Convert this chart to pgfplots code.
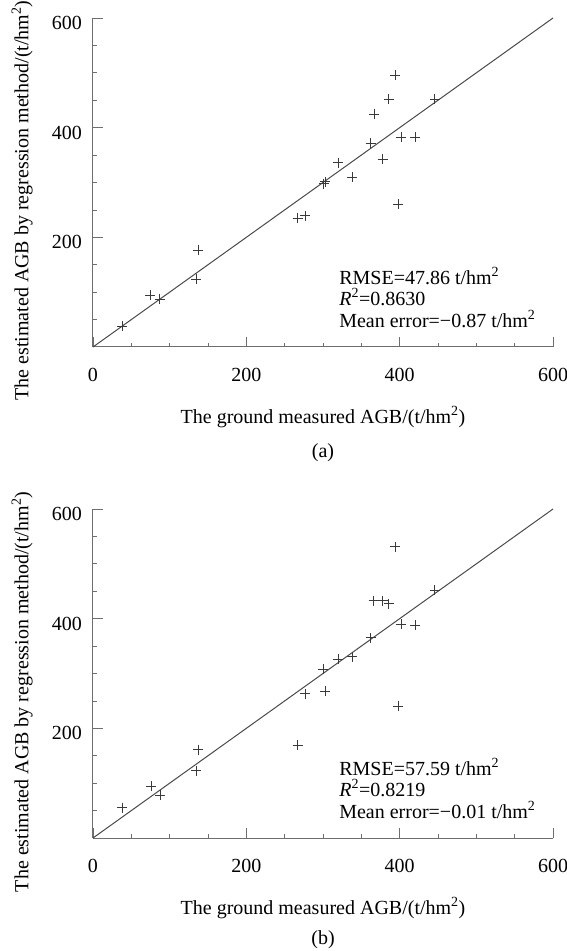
\documentclass[border=0pt]{standalone}
\usepackage{fontspec}
\setmainfont{Liberation Serif}
\usepackage{pgfplots}
\pgfplotsset{compat=1.18}
\definecolor{axisgray}{HTML}{6E6E6E}
\definecolor{linegray}{HTML}{4A4A4A}
\definecolor{markgray}{HTML}{3A3A3A}
\pgfplotstableread{
x y
38 38
75 94
87 87
137 176
135 124
267 235
277 239
301 298
303 301
320 336
338 310
362 372
367 425
378 342
386 452
394 496
398 260
402 383
420 383
446 452
}\dataA
\pgfplotstableread{
x y
38 55
76 94
88 78
137 161
135 123
267 169
277 263
300 308
303 268
320 326
338 331
362 365
366 433
378 433
386 427
394 531
398 240
402 390
420 388
446 452
}\dataB
\begin{document}
\begin{tikzpicture}[x=1pt,y=1pt,font=\fontsize{20}{24}\selectfont]
\useasboundingbox (0,0) rectangle (567,951);
\pgfplotsset{myax/.style={
  scale only axis, width=460pt, height=329pt,
  xmin=0,xmax=600,ymin=0,ymax=600,
  clip=false,
  axis x line*=bottom, axis y line*=left,
  axis line style={color=axisgray, line width=1pt},
  xtick={0,200,400,600}, ytick={200,400,600},
  minor xtick={50,100,...,550}, minor ytick={50,100,...,550},
  tick align=inside, major tick length=10pt, minor tick length=4pt,
  tick style={color=axisgray, line width=0.8pt},
  /pgf/number format/assume math mode=true,
  tick label style={font=\fontsize{20}{24}\selectfont},
  label style={font=\fontsize{20}{24}\selectfont},
  xticklabel style={anchor=center, yshift=-28pt},
  yticklabel style={anchor=center, xshift=-26pt, yshift=-5pt},
  xlabel={The ground measured AGB/(t/hm\textsuperscript{2})},
  ylabel={The estimated AGB by regression method/(t/hm\textsuperscript{2})},
  xlabel style={at={(axis description cs:0.5,0)}, anchor=center, yshift=-70pt},
}}
\begin{axis}[myax, at={(93pt,604pt)}, anchor=south west,
  ylabel style={at={(axis description cs:-0.154,0.445)}, anchor=center}]
\addplot[no marks, color=linegray, line width=1pt] coordinates {(0,0) (600,600)};
\addplot[only marks, mark=+, mark size=5pt, color=markgray, mark options={line width=0.9pt}] table[x=x,y=y] {\dataA};
\node[anchor=west, inner sep=0pt] at (axis cs:321,129.5) {RMSE=47.86 t/hm\textsuperscript{2}};
\node[anchor=west, inner sep=0pt] at (axis cs:321,91) {\textit{R}\textsuperscript{2}=0.8630};
\node[anchor=west, inner sep=0pt] at (axis cs:321,51) {Mean error=−0.87 t/hm\textsuperscript{2}};
\node[anchor=center] at (rel axis cs:0.5,0) [yshift=-106pt] {(a)};
\end{axis}
\begin{axis}[myax, at={(93pt,113pt)}, anchor=south west,
  ylabel style={at={(axis description cs:-0.154,0.444)}, anchor=center}]
\addplot[no marks, color=linegray, line width=1pt] coordinates {(0,0) (600,600)};
\addplot[only marks, mark=+, mark size=5pt, color=markgray, mark options={line width=0.9pt}] table[x=x,y=y] {\dataB};
\node[anchor=west, inner sep=0pt] at (axis cs:321,129.5) {RMSE=57.59 t/hm\textsuperscript{2}};
\node[anchor=west, inner sep=0pt] at (axis cs:321,91) {\textit{R}\textsuperscript{2}=0.8219};
\node[anchor=west, inner sep=0pt] at (axis cs:321,51) {Mean error=−0.01 t/hm\textsuperscript{2}};
\node[anchor=center] at (rel axis cs:0.5,0) [yshift=-102pt] {(b)};
\end{axis}
\end{tikzpicture}
\end{document}
